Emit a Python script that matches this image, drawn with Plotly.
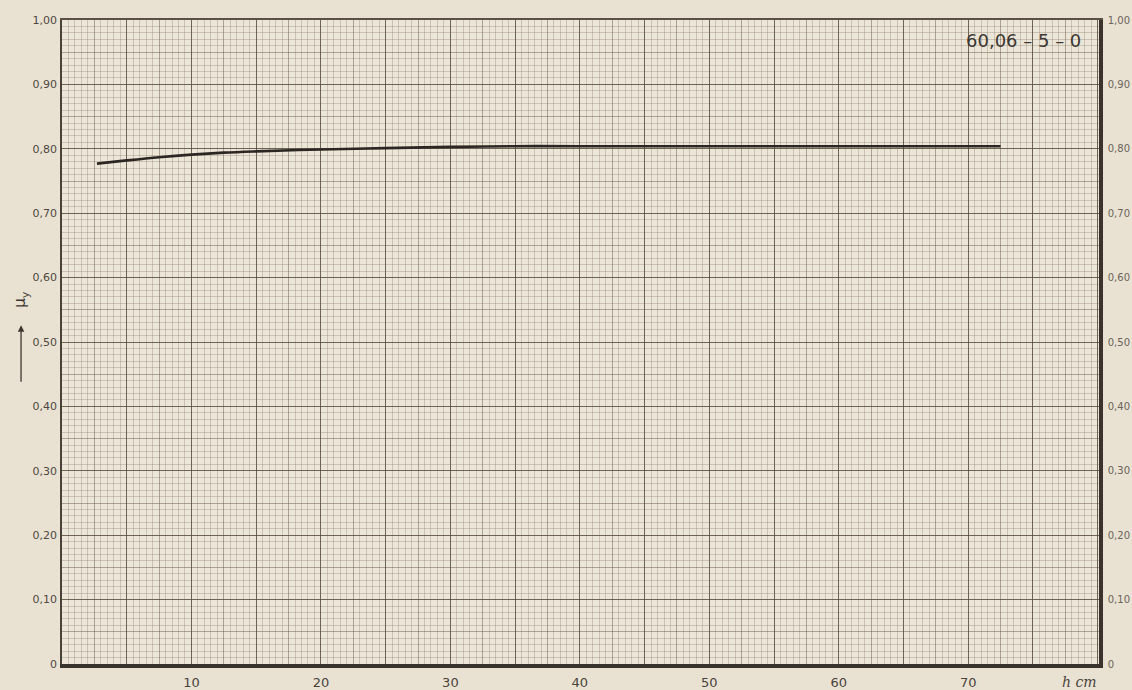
import plotly.graph_objects as go

# ---- data ----
h_cm = [2.7, 5, 7.5, 10, 12.5, 15, 20, 25, 30, 35, 40, 50, 60, 72.5]
mu_y = [0.777, 0.782, 0.787, 0.791, 0.794, 0.796, 0.799, 0.801, 0.803, 0.804, 0.804, 0.804, 0.804, 0.804]

x_tick_vals = [10, 20, 30, 40, 50, 60, 70]
x_tick_labels = ["10", "20", "30", "40", "50", "60", "70"]
y_tick_vals = [0, 0.1, 0.2, 0.3, 0.4, 0.5, 0.6, 0.7, 0.8, 0.9, 1.0]
y_left_labels = ["0", "0,10", "0,20", "0,30", "0,40", "0,50", "0,60", "0,70", "0,80", "0,90", "1,00"]
y_right_labels = ["0", "0,10", "0,20", "0,30", "0,40", "0,50", "0,60", "0,70", "0,80", "0,90", "1,00"]

XR = [0, 80.1]
YR = [0, 1.0]

paper_bg = "#e9e2d3"
plot_bg = "#ece6d8"
minor_c = "rgba(125,112,96,0.30)"
mid_c = "rgba(105,93,78,0.50)"
major_c = "rgba(85,75,64,0.72)"
frame_c = "#3a332d"

fig = go.Figure()
fig.add_trace(go.Scatter(x=h_cm, y=mu_y, mode="lines",
                         line=dict(color="#2b2622", width=2.6, shape="spline"),
                         xaxis="x", yaxis="y", showlegend=False, hoverinfo="skip"))
fig.add_trace(go.Scatter(x=[None], y=[None], xaxis="x2", yaxis="y2", showlegend=False))
fig.add_trace(go.Scatter(x=[None], y=[None], xaxis="x3", yaxis="y3", showlegend=False))

fig.update_layout(
    template="none",
    width=1132, height=690,
    margin=dict(l=62, r=33, t=20, b=26, autoexpand=False),
    paper_bgcolor=paper_bg, plot_bgcolor=plot_bg,
    xaxis=dict(range=XR, dtick=2.5, tick0=0, showticklabels=False, ticks="", automargin=False,
               showgrid=True, gridcolor=mid_c, gridwidth=1, zeroline=False,
               minor=dict(dtick=0.5, showgrid=True, gridcolor=minor_c, gridwidth=1, ticks=""),
               showline=True, linecolor=frame_c, linewidth=3.5),
    xaxis2=dict(range=XR, overlaying="x", side="top", dtick=5, tick0=0, automargin=False,
                showticklabels=False, ticks="", showgrid=True, gridcolor=major_c,
                gridwidth=1, zeroline=False, showline=True, linecolor="#5a5046", linewidth=1.5),
    xaxis3=dict(range=XR, overlaying="x", side="bottom", tickvals=x_tick_vals,
                ticktext=x_tick_labels, showgrid=False, zeroline=False, ticks="",
                ticklabelstandoff=9, automargin=False,
                tickfont=dict(family="DejaVu Sans", size=13, color="#4a433c")),
    yaxis=dict(range=YR, dtick=0.05, tick0=0, showticklabels=False, ticks="", automargin=False,
               showgrid=True, gridcolor=mid_c, gridwidth=1, zeroline=False,
               minor=dict(dtick=0.01, showgrid=True, gridcolor=minor_c, gridwidth=1, ticks=""),
               showline=True, linecolor="#4a4139", linewidth=1.8),
    yaxis2=dict(range=YR, overlaying="y", side="right", tickvals=y_tick_vals,
                ticktext=y_right_labels, showgrid=True, gridcolor=major_c, gridwidth=1,
                zeroline=False, ticks="", showline=True, linecolor=frame_c, linewidth=3.5,
                automargin=False, ticklabelstandoff=3,
                tickfont=dict(family="DejaVu Sans", size=10, color="#6b625a")),
    yaxis3=dict(range=YR, overlaying="y", side="left", tickvals=y_tick_vals,
                ticktext=y_left_labels, showgrid=False, zeroline=False, ticks="",
                automargin=False, ticklabelstandoff=4,
                tickfont=dict(family="DejaVu Sans", size=11, color="#4f4841")),
    annotations=[
        dict(text="60,06 – 5 – 0", xref="paper", yref="paper", x=0.985, y=0.968,
             xanchor="right", yanchor="middle", showarrow=False,
             font=dict(family="DejaVu Sans", size=18, color="#3d3731")),
        dict(text="<i>h cm</i>", xref="paper", yref="paper", x=1.0, y=-0.028,
             xanchor="right", yanchor="middle", showarrow=False,
             font=dict(family="DejaVu Serif", size=14, color="#4a433c")),
        dict(text="μ<sub>y</sub>", xref="paper", yref="paper", x=-0.04, y=0.565,
             xanchor="center", yanchor="middle", showarrow=False, textangle=-90,
             font=dict(family="DejaVu Sans", size=15, color="#3d3731")),
        dict(text="", xref="paper", yref="paper", x=-0.0395, y=0.526,
             showarrow=True, ax=0, ay=58, arrowhead=2, arrowsize=1, arrowwidth=1.3,
             arrowcolor="#3d3731"),
    ],
)

fig.write_html("out.html", config={"displayModeBar": False},
               post_script="document.body.style.margin='0';document.body.style.overflow='hidden';"
                           "document.documentElement.style.background='" + paper_bg + "';")
